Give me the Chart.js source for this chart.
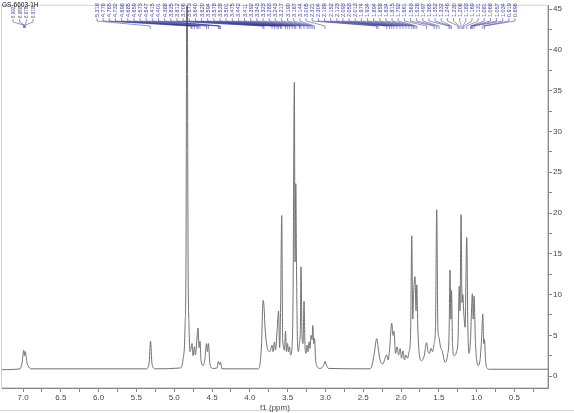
<!DOCTYPE html>
<html>
<head>
<meta charset="utf-8">
<script src="https://cdn.jsdelivr.net/npm/chart.js@4/dist/chart.umd.min.js"></script>
<style>
  html, body { margin: 0; padding: 0; background: #fff; }
  #c { display: block; }
</style>
</head>
<body>
<canvas id="c" width="574" height="413"></canvas>
<script>
// spectrum trace (ppm, intensity)
const ppm = [
  7.278, 7.040, 7.013, 6.990, 6.980, 6.970, 6.950, 6.934, 6.894,
  5.373, 5.333, 5.313, 5.294, 5.254,
  4.923, 4.884, 4.857, 4.844, 4.831, 4.817, 4.804, 4.791,
  4.778, 4.765, 4.751, 4.732, 4.720, 4.698, 4.685, 4.672, 4.659, 4.646, 4.619,
  4.593, 4.573, 4.560, 4.547, 4.528, 4.488, 4.435, 4.415, 4.401, 4.388, 4.368,
  3.892, 3.865, 3.845, 3.825, 3.812, 3.799, 3.772, 3.733, 3.706, 3.693, 3.673,
  3.660, 3.640, 3.620, 3.606, 3.594, 3.578, 3.565, 3.541, 3.528, 3.515, 3.501,
  3.488, 3.475, 3.462, 3.442, 3.429, 3.411, 3.402, 3.392, 3.382, 3.369, 3.356,
  3.343, 3.332, 3.323, 3.310, 3.296, 3.283, 3.270, 3.257, 3.243, 3.230, 3.217,
  3.204, 3.190, 3.177, 3.167, 3.154, 3.144, 3.131, 3.111, 3.071, 3.025, 3.005,
  2.985, 2.958,
  2.410, 2.384, 2.357, 2.321, 2.304, 2.278, 2.238, 2.212, 2.189, 2.172, 2.152,
  2.123, 2.106, 2.093, 2.073, 2.053, 2.033, 2.013, 1.993, 1.974, 1.954, 1.934,
  1.914, 1.894, 1.874, 1.858, 1.845, 1.834, 1.815, 1.802, 1.792, 1.778, 1.762,
  1.729, 1.696, 1.661, 1.643, 1.623, 1.603, 1.583, 1.563, 1.544, 1.528, 1.513,
  1.497, 1.477, 1.458, 1.418, 1.385, 1.365, 1.352, 1.341, 1.332, 1.319, 1.299,
  1.266, 1.246, 1.230, 1.220, 1.206, 1.193, 1.183, 1.169, 1.153, 1.131, 1.116,
  1.101, 1.081, 1.068, 1.057, 1.045, 1.034, 1.015, 0.981, 0.955, 0.935, 0.919,
  0.906, 0.896, 0.882, 0.862, 0.823, 0.056
];
const intensity = [
  0.8, 0.9, 1.6, 3.2, 2.5, 3.0, 1.8, 1.3, 0.9,
  0.9, 1.5, 4.3, 1.5, 0.9,
  1.0, 2.0, 6.0, 15, 60, 15, 6.0, 3.0,
  3.4, 4.0, 2.5, 3.6, 2.6, 4.8, 5.9, 3.5, 4.3, 2.0, 1.3,
  2.2, 4.0, 3.0, 4.0, 1.5, 0.95, 1.0, 1.8, 1.4, 1.7, 0.9,
  0.9, 1.5, 4.0, 9.3, 8.5, 6.0, 3.6, 3.0, 3.8, 3.0, 4.2,
  3.2, 5.5, 8.0, 3.5, 7.5, 19.7, 4.5, 3.2, 5.5, 3.0, 4.0,
  3.0, 3.6, 2.6, 3.5, 9.0, 36.0, 14, 23.6, 13, 4.0, 3.0,
  4.2, 5.5, 13.4, 5.0, 4.0, 9.2, 3.6, 2.8, 3.8, 3.0, 4.2,
  3.4, 5.0, 4.5, 6.2, 4.0, 4.6, 2.2, 1.2, 0.95, 1.3, 1.8,
  1.3, 0.95,
  0.9, 1.3, 2.6, 4.6, 3.6, 2.0, 1.5, 2.2, 2.6, 2.0, 3.2,
  6.5, 5.0, 5.5, 2.8, 3.6, 2.6, 3.4, 2.2, 3.1, 2.0, 2.6,
  2.2, 3.0, 5.0, 17.2, 7.0, 10.0, 12.2, 8.0, 11.2, 6.0, 3.0,
  1.9, 2.4, 4.1, 3.0, 2.8, 3.4, 3.0, 4.0, 6.0, 20.4, 6.0,
  4.7, 3.5, 3.2, 1.7, 2.6, 5.0, 13.0, 7.0, 10.5, 4.0, 2.5,
  3.0, 4.5, 11.0, 8.0, 19.8, 9.0, 10.0, 7.6, 6.0, 17.0, 6.0,
  2.8, 4.5, 8.0, 10.1, 7.0, 9.8, 4.0, 1.3, 2.0, 4.5, 7.6,
  4.0, 4.5, 2.0, 0.95, 0.85, 0.85
];

// peak picking labels (ppm), shown vertically along the top
const leftPeaks = ['6.992', '6.986', '6.978', '6.970'];
const mainPeaks = [
  '5.318', '4.776', '4.765', '4.732', '4.698', '4.685', '4.659', '4.573', '4.547',
  '4.415', '4.401', '4.388', '3.825', '3.812', '3.706', '3.673', '3.640', '3.620',
  '3.594', '3.578', '3.528', '3.501', '3.475', '3.442', '3.411', '3.392', '3.343',
  '3.323', '3.283', '3.243', '3.217', '3.190', '3.167', '3.144', '3.005', '2.321',
  '2.304', '2.189', '2.152', '2.123', '2.093', '2.053', '2.013', '1.974', '1.934',
  '1.894', '1.858', '1.834', '1.815', '1.792', '1.661', '1.563', '1.528', '1.497',
  '1.365', '1.352', '1.332', '1.246', '1.230', '1.206', '1.183', '1.169', '1.131',
  '1.081', '1.068', '1.057', '1.034', '0.919', '0.896'
];

// axis ticks
const xTicks = [7.0, 6.75, 6.5, 6.25, 6.0, 5.75, 5.5, 5.25, 5.0, 4.75, 4.5, 4.25, 4.0, 3.75,
  3.5, 3.25, 3.0, 2.75, 2.5, 2.25, 2.0, 1.75, 1.5, 1.25, 1.0, 0.75, 0.5, 0.25];
const yTicks = [0, 2.5, 5, 7.5, 10, 12.5, 15, 17.5, 20, 22.5, 25, 27.5, 30, 32.5, 35,
  37.5, 40, 42.5, 45];

const title = 'GS-6603-1H';
const tickFont = { family: 'Liberation Sans', size: 8 };
const blue = '#3f3f9e';

const decorations = {
  id: 'decorations',
  beforeDraw(chart) {
    const { ctx, chartArea: a } = chart;
    ctx.save();
    ctx.strokeStyle = '#d4d4d4';
    ctx.lineWidth = 1;
    ctx.strokeRect(a.left - 0.5, a.top - 0.5, a.right - a.left, a.bottom - a.top);
    ctx.beginPath();
    ctx.moveTo(0, 410.5);
    ctx.lineTo(574, 410.5);
    ctx.stroke();
    ctx.restore();
  },
  afterDraw(chart) {
    const { ctx } = chart;
    const xs = chart.scales.x;
    ctx.save();
    ctx.fillStyle = blue;
    ctx.strokeStyle = 'rgba(50,50,150,0.75)';
    ctx.lineWidth = 0.7;
    const drawGroup = (labels, x0, x1, yText, yFan, size) => {
      ctx.font = size + 'px "Liberation Sans"';
      const step = labels.length > 1 ? (x1 - x0) / (labels.length - 1) : 0;
      labels.forEach((lab, i) => {
        const lx = x0 + i * step;
        const px = xs.getPixelForValue(parseFloat(lab));
        ctx.save();
        ctx.translate(lx + 2, yText);
        ctx.rotate(-Math.PI / 2);
        ctx.textAlign = 'left';
        ctx.fillText(lab, 0, 0);
        ctx.restore();
        ctx.beginPath();
        ctx.moveTo(lx, yText + 1);
        ctx.lineTo(lx, yText + 4);
        ctx.lineTo(px, yFan);
        ctx.lineTo(px, yFan + 3);
        ctx.stroke();
      });
    };
    drawGroup(leftPeaks, 13, 33, 18, 25, 4.5);
    drawGroup(mainPeaks, 97, 515, 17, 26, 5.5);

    ctx.fillStyle = '#111';
    ctx.font = '6.5px "Liberation Sans"';
    ctx.textBaseline = 'middle';
    ctx.fillText(title, 2, 5);
    ctx.restore();
  }
};

new Chart(document.getElementById('c'), {
  type: 'line',
  data: {
    datasets: [{
      data: ppm.map((p, i) => ({ x: p, y: intensity[i] })),
      borderColor: '#727272',
      borderWidth: 1,
      pointRadius: 0,
      cubicInterpolationMode: 'monotone',
      fill: false
    }]
  },
  options: {
    responsive: false,
    animation: false,
    devicePixelRatio: 1,
    layout: { padding: { left: 2, top: 2, right: 0, bottom: 0 } },
    plugins: { legend: { display: false }, tooltip: { enabled: false } },
    scales: {
      x: {
        type: 'linear',
        reverse: true,
        min: 0.056,
        max: 7.278,
        afterBuildTicks: s => { s.ticks = xTicks.map(v => ({ value: v })); },
        afterFit: s => { s.height = 25; },
        grid: { drawOnChartArea: false, tickLength: 4, color: '#888' },
        border: { color: '#888' },
        ticks: {
          autoSkip: false,
          maxRotation: 0,
          padding: 1,
          color: '#444',
          font: tickFont,
          callback: v => (Math.abs(v * 2 - Math.round(v * 2)) < 1e-6 ? v.toFixed(1) : '')
        },
        title: {
          display: true,
          text: 'f1 (ppm)',
          color: '#444',
          font: tickFont,
          padding: { top: -3, bottom: 0 }
        }
      },
      y: {
        type: 'linear',
        position: 'right',
        min: -1.45,
        max: 45.4,
        afterBuildTicks: s => { s.ticks = yTicks.map(v => ({ value: v })); },
        afterFit: s => { s.width = 26; },
        grid: { drawOnChartArea: false, tickLength: 4, color: '#888' },
        border: { color: '#888' },
        ticks: {
          autoSkip: false,
          padding: 1,
          color: '#444',
          font: tickFont,
          callback: v => (v % 5 === 0 ? String(v) : '')
        }
      }
    }
  },
  plugins: [decorations]
});
</script>
</body>
</html>
